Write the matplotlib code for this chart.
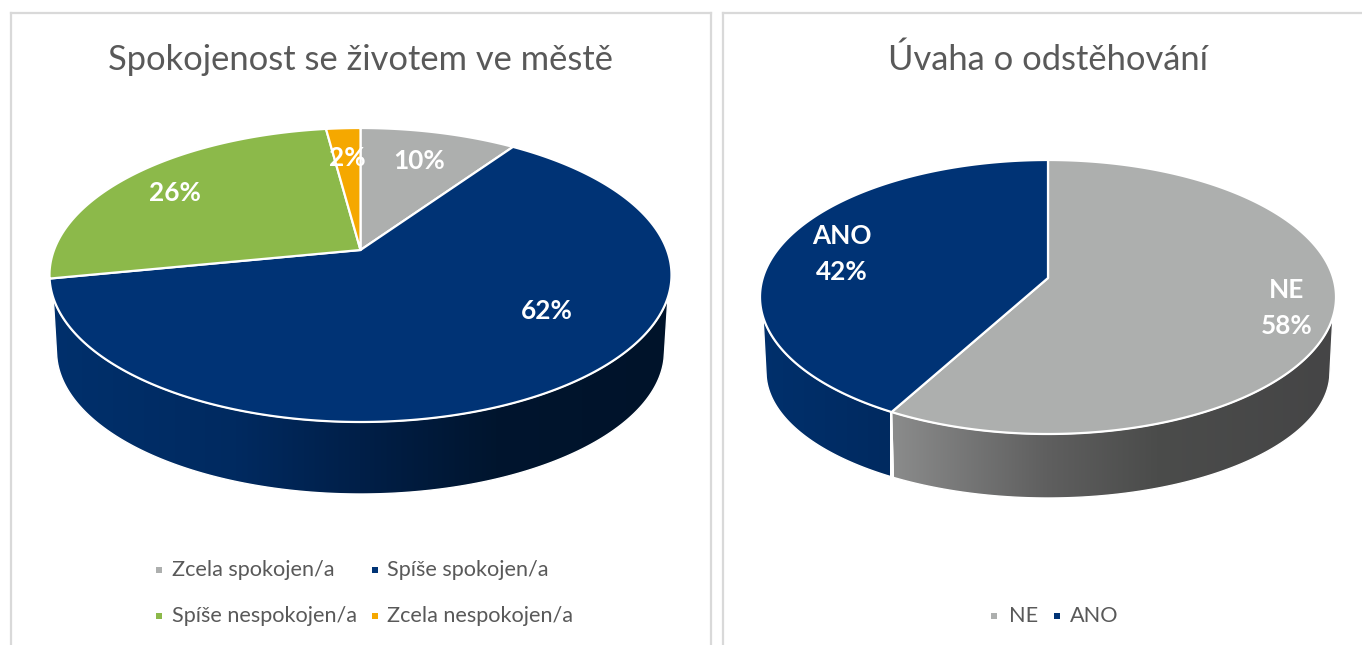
import numpy as np
import matplotlib
matplotlib.use("Agg")
import matplotlib.pyplot as plt
from matplotlib.patches import Polygon
from matplotlib.colors import LinearSegmentedColormap

# values (labels are rounded)
left_title = "Spokojenost se životem ve městě"
left_cats = ["Zcela spokojen/a", "Spíše spokojen/a", "Spíše nespokojen/a", "Zcela nespokojen/a"]
left_vals = [9.6, 62.3, 26.0, 2.1]

right_title = "Úvaha o odstěhování"
right_cats = ["NE", "ANO"]
right_vals = [58, 42]

W, H = 1362, 645
TEXT = "#595959"
BORDER = "#d9d9d9"
GREY = "#adafae"
NAVY = "#003375"
GREEN = "#8cb94a"
ORANGE = "#f5a800"

plt.rcParams["font.family"] = ["Lato", "DejaVu Sans"]


def rim(t, g):
    # circle seen in perspective: the apex is not the centre of the ellipse
    c = (g["cy"] - g["apex"]) / g["ry"]
    den = 1 + c * np.cos(t)
    x = g["cx"] + g["rx"] * np.sqrt(1 - c ** 2) * np.sin(t) / den
    y = g["cy"] - (g["ry"] * np.cos(t) + g["cy"] - g["apex"]) / den
    return x, y


def draw_side(ax, t0, t1, g, stops, extent):
    x, y = rim(np.linspace(t0, t1, 400), g)
    keep = y > g["cy"] + g["cut"]
    if keep.sum() < 2:
        return
    x, y = x[keep], y[keep]
    # half width of the rim where the side starts goes to the full width of the lower ellipse
    half = g["rx"] * np.sqrt(1 - (g["cut"] / g["ry"]) ** 2)
    k = np.clip((x - g["cx"]) / half, -1, 1)
    xl = g["cx"] + k * g["rx2"]
    yl = g["cy2"] + g["ry2"] * np.sqrt(1 - k ** 2)
    pts = np.r_[np.c_[x, y], np.c_[xl, yl][::-1]]
    cmap = LinearSegmentedColormap.from_list("side", stops)
    im = ax.imshow(np.linspace(0, 1, 256)[None, :], cmap=cmap, aspect="auto", zorder=1,
                   extent=(extent[0], extent[1], g["cy2"] + g["ry2"] + 2, g["cy"]))
    clip = Polygon(pts, closed=True, transform=ax.transData)
    im.set_clip_path(clip)
    ax.add_patch(Polygon(pts, closed=True, fill=False, ec="white", lw=1.0, zorder=2))


def draw_pie(ax, vals, colors, g, sides):
    edges = np.r_[0, np.cumsum(vals)] / np.sum(vals) * 2 * np.pi
    for i in range(len(vals)):
        if sides[i] is not None:
            draw_side(ax, edges[i], edges[i + 1], g, sides[i][0], sides[i][1])
    for i in range(len(vals)):
        x, y = rim(np.linspace(edges[i], edges[i + 1], 300), g)
        pts = np.r_[[[g["cx"], g["apex"]]], np.c_[x, y]]
        ax.add_patch(Polygon(pts, closed=True, fc=colors[i], ec="white", lw=1.6, zorder=3, joinstyle="round"))


def panel(pos):
    x0, x1, y0 = pos
    ax = fig.add_axes([x0 / W, 0, (x1 - x0) / W, 1 - y0 / H])
    ax.set_xticks([])
    ax.set_yticks([])
    ax.spines["bottom"].set_visible(False)
    for s in ax.spines.values():
        s.set_color(BORDER)
        s.set_linewidth(1.6)
    return ax


def finish(ax, pos):
    ax.set_xlim(pos[0], pos[1])
    ax.set_ylim(H, pos[2])


fig = plt.figure(figsize=(W / 100, H / 100), dpi=100, facecolor="white")

# left panel
pos1 = (10.5, 710.5, 12.5)
ax1 = panel(pos1)
g1 = dict(cx=360.5, cy=275, rx=311, ry=147, apex=250, cut=22, cy2=351, rx2=304, ry2=143)
navy_side = [(0, "#00306c"), (0.3, "#002a60"), (0.5, "#001f48"), (0.72, "#00152e"), (1, "#00132a")]
left_colors = [GREY, NAVY, GREEN, ORANGE]
draw_pie(ax1, left_vals, left_colors, g1, [None, (navy_side, (50, 670)), None, None])
finish(ax1, pos1)

ax1.text(360, 60, left_title, ha="center", va="center", fontsize=24.8, color=TEXT)
left_labels = [(419, 161), (547, 311), (175, 193), (347, 158)]
for v, (x, y) in zip(left_vals, left_labels):
    ax1.text(x, y, f"{round(v)}%", ha="center", va="center", fontsize=18.8, fontweight="bold", color="white", zorder=5)

left_legend = [(158.5, 172, 570), (374.5, 387, 570), (158.5, 172, 616), (374.5, 387, 616)]
for name, col, (xm, xt, y) in zip(left_cats, left_colors, left_legend):
    ax1.plot([xm], [y], "s", ms=5, color=col, mew=0)
    ax1.text(xt, y, name, ha="left", va="center", fontsize=15.6, color=TEXT)

# right panel
pos2 = (722.5, 1375, 12.5)
ax2 = panel(pos2)
g2 = dict(cx=1048, cy=297, rx=288, ry=137, apex=278, cut=19, cy2=372, rx2=282, ry2=126)
grey_side = [(0, "#8b8c8c"), (0.35, "#5f5f5f"), (0.6, "#4b4c4b"), (1, "#454546")]
blue_side = [(0, "#00306c"), (1, "#002a60")]
right_colors = [GREY, NAVY]
draw_pie(ax2, right_vals, right_colors, g2, [(grey_side, (891, 1334)), (blue_side, (761, 890))])
finish(ax2, pos2)

ax2.text(1048, 60, right_title, ha="center", va="center", fontsize=24.8, color=TEXT)
right_labels = [(1287, 308), (842, 254)]
for name, v, (x, y) in zip(right_cats, right_vals, right_labels):
    ax2.text(x, y, f"{name}\n{v}%", ha="center", va="center", fontsize=18.8, fontweight="bold",
             color="white", linespacing=1.6, zorder=5)

right_legend = [(994, 1009, 616), (1057, 1070, 616)]
for name, col, (xm, xt, y) in zip(right_cats, right_colors, right_legend):
    ax2.plot([xm], [y], "s", ms=5, color=col, mew=0)
    ax2.text(xt, y, name, ha="left", va="center", fontsize=15.6, color=TEXT)

fig.savefig("out.png", dpi=100)
